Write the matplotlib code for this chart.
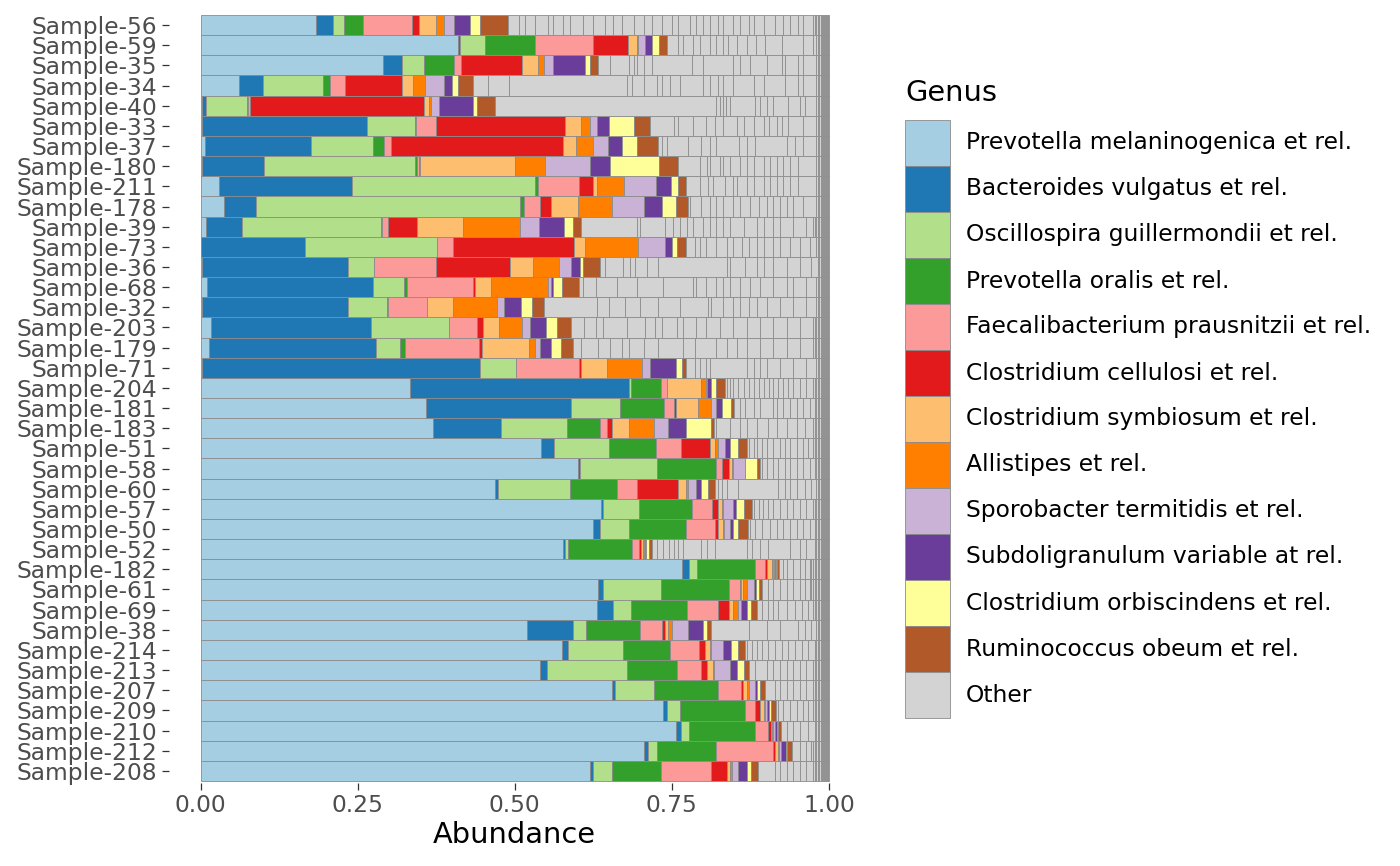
import matplotlib
matplotlib.use("Agg")
import matplotlib.pyplot as plt
from matplotlib.patches import Rectangle
import numpy as np

samples = ["Sample-56", "Sample-59", "Sample-35", "Sample-34", "Sample-40", "Sample-33",
           "Sample-37", "Sample-180", "Sample-211", "Sample-178", "Sample-39", "Sample-73",
           "Sample-36", "Sample-68", "Sample-32", "Sample-203", "Sample-179", "Sample-71",
           "Sample-204", "Sample-181", "Sample-183", "Sample-51", "Sample-58", "Sample-60",
           "Sample-57", "Sample-50", "Sample-52", "Sample-182", "Sample-61", "Sample-69",
           "Sample-38", "Sample-214", "Sample-213", "Sample-207", "Sample-209", "Sample-210",
           "Sample-212", "Sample-208"]

genera = ["Prevotella melaninogenica et rel.", "Bacteroides vulgatus et rel.",
          "Oscillospira guillermondii et rel.", "Prevotella oralis et rel.",
          "Faecalibacterium prausnitzii et rel.", "Clostridium cellulosi et rel.",
          "Clostridium symbiosum et rel.", "Allistipes et rel.",
          "Sporobacter termitidis et rel.", "Subdoligranulum variable at rel.",
          "Clostridium orbiscindens et rel.", "Ruminococcus obeum et rel.", "Other"]

prevotella_mel = [.184, .409, .290, .061, .003, .002, .007, .002, .030, .038,
                  .008, .001, .002, .010, .003, .017, .013, .002, .333, .358,
                  .370, .542, .601, .468, .638, .625, .577, .766, .632, .631,
                  .519, .575, .540, .654, .736, .756, .706, .620]
bacteroides = [.027, .004, .030, .038, .005, .263, .169, .099, .211, .050,
               .058, .166, .232, .265, .231, .255, .267, .442, .348, .231,
               .108, .021, .003, .005, .003, .011, .003, .011, .009, .026,
               .074, .009, .011, .005, .007, .008, .006, .005]
oscillospira = [.017, .040, .036, .096, .066, .077, .099, .241, .291, .420,
                .221, .210, .042, .048, .062, .123, .037, .058, .004, .078,
                .105, .087, .123, .115, .056, .046, .004, .013, .091, .028,
                .021, .089, .127, .063, .020, .013, .014, .030]
prevotella_oralis = [.031, .080, .048, .011, .001, .001, .017, .002, .005, .007,
                     .001, .000, .000, .005, .003, .001, .009, .000, .048, .070,
                     .052, .075, .094, .074, .085, .091, .103, .092, .109, .089,
                     .086, .074, .080, .101, .104, .105, .095, .078]
faecalibacterium = [.077, .091, .011, .024, .003, .032, .011, .003, .066, .025,
                    .011, .024, .098, .105, .062, .044, .117, .101, .010, .017,
                    .012, .040, .009, .032, .032, .046, .011, .016, .017, .050,
                    .034, .046, .039, .037, .015, .021, .090, .080]
cl_cellulosi = [.011, .056, .096, .090, .278, .205, .274, .003, .021, .017,
                .046, .193, .119, .003, .000, .010, .005, .003, .000, .002,
                .007, .046, .011, .065, .010, .005, .003, .003, .002, .017,
                .005, .010, .009, .003, .009, .004, .003, .025]
cl_symbiosum = [.027, .015, .026, .018, .007, .025, .021, .150, .007, .044,
                .072, .017, .036, .027, .041, .025, .075, .041, .054, .036,
                .028, .007, .004, .013, .005, .007, .003, .009, .003, .006,
                .005, .008, .009, .007, .005, .003, .005, .005]
allistipes = [.013, .001, .009, .019, .003, .015, .026, .048, .043, .054,
              .092, .085, .041, .090, .070, .036, .010, .056, .007, .021,
              .039, .005, .002, .003, .003, .002, .001, .002, .007, .009,
              .007, .001, .002, .002, .002, .001, .002, .003]
sporobacter = [.016, .011, .015, .031, .013, .011, .024, .072, .050, .050,
               .030, .043, .019, .005, .011, .013, .007, .013, .002, .007,
               .023, .011, .019, .013, .016, .009, .003, .002, .011, .004,
               .025, .019, .026, .011, .004, .003, .003, .010]
subdoligranulum = [.025, .011, .051, .012, .054, .019, .023, .031, .024, .030,
                   .040, .011, .015, .003, .027, .025, .017, .041, .006, .009,
                   .029, .009, .001, .009, .004, .005, .001, .001, .003, .010,
                   .023, .013, .010, .003, .003, .003, .007, .013]
cl_orbiscindens = [.017, .012, .008, .009, .007, .040, .024, .079, .011, .022,
                   .013, .008, .005, .014, .017, .018, .016, .009, .008, .015,
                   .040, .012, .019, .010, .012, .009, .005, .002, .004, .006,
                   .007, .011, .011, .005, .003, .002, .003, .007]
ruminococcus = [.044, .013, .013, .024, .029, .025, .033, .030, .014, .019,
                .013, .015, .027, .027, .019, .023, .019, .007, .014, .005,
                .004, .015, .004, .012, .014, .015, .005, .003, .006, .009,
                .007, .011, .008, .007, .007, .004, .007, .011]

# Boundaries between the many small taxa pooled into "Other" (cumulative abundance)
other_breaks = [
    [0.506, 0.516, 0.532, 0.553, 0.561, 0.577, 0.588, 0.609, 0.625, 0.644, 0.657, 0.670, 0.689,
     0.705, 0.718, 0.734, 0.750, 0.760, 0.779, 0.789, 0.800, 0.811, 0.824, 0.832, 0.848, 0.858,
     0.872, 0.880, 0.896, 0.914, 0.927, 0.938, 0.951, 0.959, 0.975],
    [0.760, 0.768, 0.783, 0.795, 0.811, 0.821, 0.832, 0.840, 0.853, 0.869, 0.884, 0.898, 0.925,
     0.959, 0.975, 0.980],
    [0.652, 0.681, 0.689, 0.694, 0.705, 0.719, 0.782, 0.800, 0.848, 0.858, 0.874, 0.901, 0.925,
     0.930, 0.951, 0.959, 0.980],
    [0.458, 0.491, 0.678, 0.686, 0.705, 0.726, 0.734, 0.747, 0.763, 0.800, 0.811, 0.824, 0.832,
     0.848, 0.880, 0.896, 0.930, 0.951, 0.959, 0.980],
    [0.821, 0.826, 0.832, 0.836, 0.842, 0.882, 0.890, 0.901, 0.911, 0.935, 0.954, 0.962, 0.980],
    [0.753, 0.760, 0.783, 0.805, 0.819, 0.832, 0.853, 0.864, 0.880, 0.896, 0.904, 0.917, 0.925,
     0.935, 0.959, 0.980],
    [0.734, 0.742, 0.776, 0.797, 0.811, 0.821, 0.857, 0.869, 0.882, 0.933, 0.946, 0.959, 0.980],
    [0.795, 0.806, 0.811, 0.827, 0.832, 0.842, 0.858, 0.869, 0.880, 0.896, 0.906, 0.917, 0.927,
     0.938, 0.951, 0.980],
    [0.795, 0.808, 0.816, 0.835, 0.848, 0.853, 0.869, 0.880, 0.896, 0.906, 0.917, 0.927, 0.938,
     0.951, 0.980],
    [0.779, 0.797, 0.811, 0.821, 0.832, 0.848, 0.858, 0.874, 0.888, 0.901, 0.911, 0.922, 0.933,
     0.943, 0.959, 0.980],
    [0.694, 0.699, 0.739, 0.752, 0.763, 0.774, 0.784, 0.800, 0.811, 0.821, 0.832, 0.843, 0.864,
     0.885, 0.896, 0.911, 0.922, 0.943, 0.964, 0.975],
    [0.787, 0.795, 0.805, 0.821, 0.837, 0.848, 0.861, 0.872, 0.885, 0.896, 0.911, 0.922, 0.938,
     0.954, 0.970, 0.980],
    [0.644, 0.673, 0.683, 0.691, 0.710, 0.728, 0.837, 0.843, 0.866, 0.885, 0.896, 0.911, 0.933,
     0.954, 0.972, 0.983],
    [0.609, 0.630, 0.662, 0.694, 0.736, 0.784, 0.789, 0.805, 0.821, 0.832, 0.843, 0.858, 0.874,
     0.890, 0.911, 0.933, 0.943, 0.964, 0.980],
    [0.631, 0.650, 0.675, 0.699, 0.728, 0.763, 0.808, 0.813, 0.832, 0.848, 0.858, 0.872, 0.885,
     0.901, 0.922, 0.943, 0.964, 0.980],
    [0.610, 0.629, 0.641, 0.678, 0.707, 0.723, 0.734, 0.758, 0.768, 0.789, 0.805, 0.827, 0.848,
     0.869, 0.890, 0.911, 0.933, 0.954, 0.975],
    [0.605, 0.633, 0.652, 0.670, 0.681, 0.705, 0.728, 0.768, 0.787, 0.821, 0.837, 0.853, 0.869,
     0.890, 0.911, 0.933, 0.954, 0.975],
    [0.787, 0.795, 0.805, 0.811, 0.869, 0.880, 0.890, 0.901, 0.922, 0.943, 0.964, 0.980],
    [0.837, 0.842, 0.848, 0.856, 0.864, 0.872, 0.880, 0.888, 0.896, 0.904, 0.911, 0.919, 0.927,
     0.935, 0.943, 0.954, 0.964, 0.975],
    [0.858, 0.866, 0.880, 0.890, 0.911, 0.917, 0.927, 0.938, 0.949, 0.959, 0.970, 0.978],
    [0.821, 0.842, 0.858, 0.869, 0.885, 0.903, 0.917, 0.933, 0.949, 0.962, 0.975],
    [0.872, 0.880, 0.885, 0.893, 0.901, 0.911, 0.922, 0.930, 0.938, 0.949, 0.959, 0.967, 0.975],
    [0.893, 0.901, 0.911, 0.919, 0.930, 0.938, 0.949, 0.959, 0.970, 0.978],
    [0.824, 0.829, 0.837, 0.856, 0.919, 0.930, 0.938, 0.949, 0.962, 0.972, 0.980],
    [0.880, 0.888, 0.895, 0.903, 0.911, 0.922, 0.933, 0.943, 0.954, 0.964, 0.975],
    [0.874, 0.882, 0.893, 0.906, 0.917, 0.927, 0.938, 0.949, 0.959, 0.970, 0.978],
    [0.726, 0.736, 0.745, 0.753, 0.760, 0.768, 0.796, 0.806, 0.818, 0.869, 0.878, 0.890, 0.903,
     0.938, 0.954, 0.964, 0.978],
    [0.927, 0.933, 0.943, 0.954, 0.962, 0.970],
    [0.903, 0.911, 0.922, 0.933, 0.943, 0.954, 0.962, 0.970],
    [0.893, 0.903, 0.911, 0.919, 0.933, 0.946, 0.957, 0.967, 0.975],
    [0.872, 0.901, 0.922, 0.951, 0.962, 0.972, 0.980],
    [0.869, 0.877, 0.885, 0.893, 0.903, 0.914, 0.925, 0.935, 0.946, 0.957, 0.967, 0.978],
    [0.882, 0.901, 0.911, 0.922, 0.933, 0.943, 0.954, 0.964, 0.975],
    [0.914, 0.922, 0.933, 0.943, 0.954, 0.964, 0.975],
    [0.919, 0.927, 0.938, 0.949, 0.959, 0.967, 0.975],
    [0.933, 0.943, 0.954, 0.967, 0.978],
    [0.954, 0.964, 0.972],
    [0.914, 0.922, 0.933, 0.943, 0.954, 0.964, 0.975],
]

# widths of the rarest taxa, listed from the right end (abundance 1.0) leftwards
rare_tail = [0.001, 0.0012, 0.001, 0.0015, 0.0012, 0.0018, 0.0015, 0.002, 0.0018, 0.0025,
             0.002, 0.003, 0.0022, 0.0035, 0.0025, 0.004, 0.003, 0.005, 0.003, 0.006,
             0.004, 0.007, 0.005, 0.008, 0.006, 0.009, 0.007, 0.01, 0.008, 0.012]

colors = ["#A6CEE3", "#1F78B4", "#B2DF8A", "#33A02C", "#FB9A99", "#E31A1C", "#FDBF6F",
          "#FF7F00", "#CAB2D6", "#6A3D9A", "#FFFF99", "#B15928", "#D3D3D3"]
edge = "#8C8C8C"
lw = 0.6

series = [prevotella_mel, bacteroides, oscillospira, prevotella_oralis, faecalibacterium,
          cl_cellulosi, cl_symbiosum, allistipes, sporobacter, subdoligranulum,
          cl_orbiscindens, ruminococcus]

W, H = 1400, 866
fig = plt.figure(figsize=(W / 100, H / 100), dpi=100)
ax = fig.add_axes([169.1 / W, (H - 783) / H, (860.4 - 169.1) / W, 770 / H])

n = len(samples)
ypos = np.arange(n)[::-1]
cum = np.zeros(n)
for vals, col in zip(series, colors):
    v = np.array(vals)
    ax.barh(ypos, v, left=cum, height=1.0, color=col, edgecolor=edge, linewidth=lw)
    cum = cum + v

# Other: many small taxa
oy, ol, ow = [], [], []
for i in range(n):
    start = cum[i]
    bounds = [start] + [b for b in other_breaks[i] if b > start + 0.0015]
    for a, b in zip(bounds[:-1], bounds[1:]):
        oy.append(ypos[i]); ol.append(a); ow.append(b - a)
    last = bounds[-1]
    r = 1.0
    for w in rare_tail:
        left = r - w
        if left <= last + 0.0005:
            oy.append(ypos[i]); ol.append(last); ow.append(r - last)
            break
        oy.append(ypos[i]); ol.append(left); ow.append(w)
        r = left
ax.barh(oy, ow, left=ol, height=1.0, color=colors[-1], edgecolor=edge, linewidth=lw)

ax.set_xlim(-0.05, 1.05)
ax.set_ylim(-0.6, n - 1 + 0.6)
for s in ax.spines.values():
    s.set_visible(False)
ax.set_xticks([0, 0.25, 0.5, 0.75, 1.0])
ax.set_xticklabels(["0.00", "0.25", "0.50", "0.75", "1.00"])
ax.set_yticks(ypos)
ax.set_yticklabels(samples)
ax.tick_params(axis="both", length=4.8, width=0.9, color="#333333",
               labelcolor="#4D4D4D", labelsize=16.8)
ax.tick_params(axis="x", pad=3)
ax.tick_params(axis="y", pad=4)

fig.text(514.5 / W, (H - 835) / H, "Abundance", ha="center", va="center",
         fontsize=20.8, color="black")

# Legend
fig.text(905 / W, (H - 93) / H, "Genus", ha="left", va="center", fontsize=20.8, color="black")
top = 120
kh = 46
for k, (name, col) in enumerate(zip(genera, colors)):
    y0 = (H - (top + kh * (k + 1))) / H
    fig.patches.append(Rectangle((905 / W, y0), 45 / W, kh / H, transform=fig.transFigure,
                                 facecolor=col, edgecolor=edge, linewidth=lw))
    fig.text(966 / W, (H - (top + kh * k + kh / 2)) / H, name, ha="left", va="center",
             fontsize=16.8, color="black")

fig.savefig("out.png", dpi=100)
